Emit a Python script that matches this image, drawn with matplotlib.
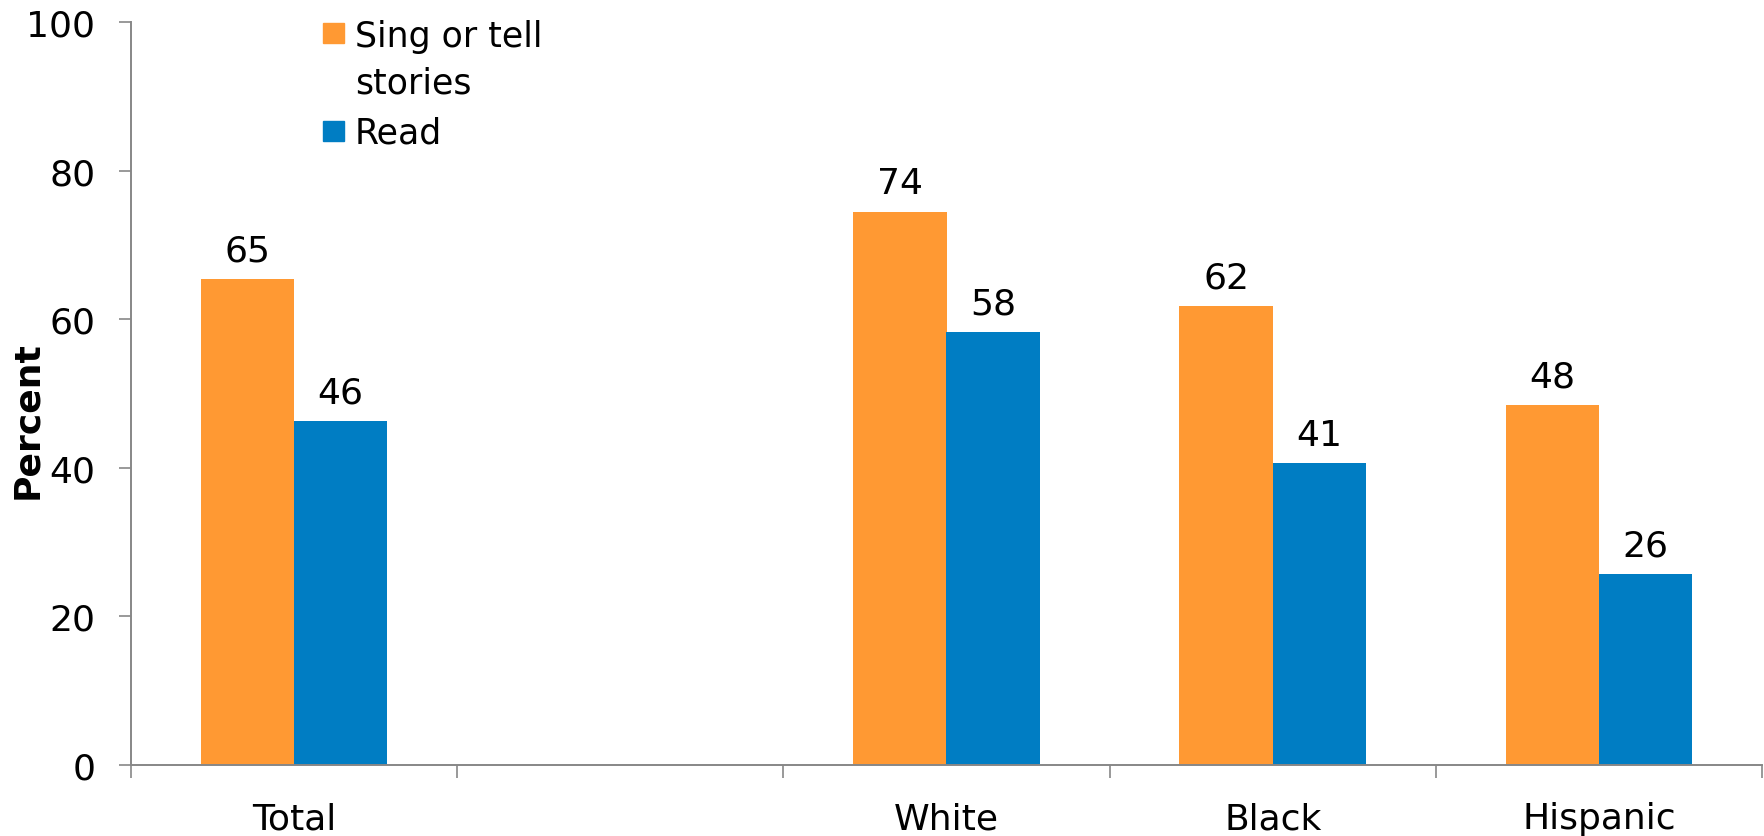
import numpy as np
import matplotlib
matplotlib.use("Agg")
import matplotlib.pyplot as plt
from matplotlib.patches import Rectangle

# Survey results by group; the empty slot keeps a gap after "Total"
categories = ["Total", "", "White", "Black", "Hispanic"]
sing_values = [65.4, np.nan, 74.4, 61.8, 48.4]
read_values = [46.3, np.nan, 58.3, 40.6, 25.7]
legend_lines = [["Sing or tell", "stories"], ["Read"]]
y_ticks = [0, 20, 40, 60, 80, 100]

ORANGE = "#FF9933"
BLUE = "#007DC3"
AXIS_GRAY = "#878787"
FS = 26

plt.rcParams["font.family"] = ["DejaVu Sans"]

W, H = 1765, 837
fig = plt.figure(figsize=(W / 100, H / 100), dpi=100)
ax = fig.add_axes([131 / W, 1 - 766 / H, 1631 / W, 743 / H])

x = np.arange(len(categories))
width = 0.286
bars_sing = ax.bar(x - width / 2, sing_values, width, color=ORANGE)
bars_read = ax.bar(x + width / 2, read_values, width, color=BLUE)

for bars, vals in ((bars_sing, sing_values), (bars_read, read_values)):
    for b, v in zip(bars, vals):
        if np.isnan(v):
            continue
        ax.annotate(f"{v:.0f}", (b.get_x() + b.get_width() / 2, v),
                    xytext=(0, 13.5), textcoords="offset points",
                    ha="center", va="baseline", fontsize=FS, color="black")

ax.set_xlim(-0.5, len(categories) - 0.5)
ax.set_ylim(0, 100)
ax.set_yticks(y_ticks)
ax.tick_params(axis="y", labelsize=FS, length=8.6, width=1.2,
               color=AXIS_GRAY, direction="out", pad=17)

# Category labels centred in each slot, tick marks on slot boundaries
ax.set_xticks(x)
ax.set_xticklabels(categories)
ax.tick_params(axis="x", which="major", length=0, labelsize=FS, pad=26)
ax.set_xticks(np.arange(-0.5, len(categories), 1.0), minor=True)
ax.tick_params(axis="x", which="minor", length=9.4, width=1.2,
               color=AXIS_GRAY, direction="out")

for side in ("top", "right"):
    ax.spines[side].set_visible(False)
for side in ("left", "bottom"):
    ax.spines[side].set_color(AXIS_GRAY)
    ax.spines[side].set_linewidth(1.4)

ax.set_ylabel("Percent", fontsize=FS, fontweight="bold")
ax.yaxis.set_label_coords(-0.0535, 0.466)

# Legend: square markers aligned with the first line of each entry
def px(xp, yp):
    return xp / W, 1 - yp / H

LEG_FS = 25
for colour, lines, sq_top, baselines in ((ORANGE, legend_lines[0], 24, [47, 93]),
                                         (BLUE, legend_lines[1], 122, [144])):
    x0, y0 = px(323, sq_top + 20)
    fig.patches.append(Rectangle((x0, y0), 21 / W, 20 / H, color=colour,
                                 transform=fig.transFigure, figure=fig))
    for line, base in zip(lines, baselines):
        tx, ty = px(355, base)
        fig.text(tx, ty, line, fontsize=LEG_FS, va="baseline", ha="left")

fig.savefig("out.png", dpi=100, facecolor="white")
